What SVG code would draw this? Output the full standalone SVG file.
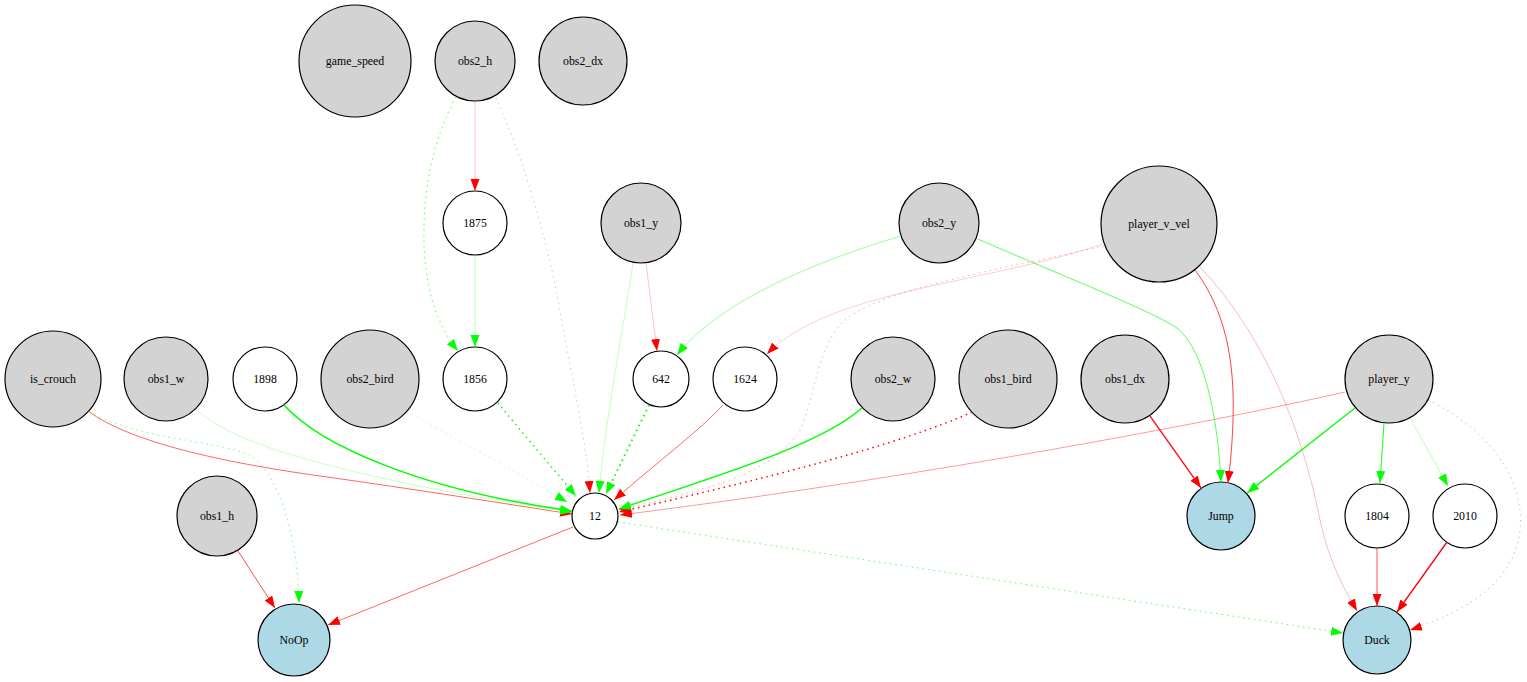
<svg xmlns="http://www.w3.org/2000/svg" width="1527" height="682" viewBox="0 0 1527 682">
  <style>
    .node circle { stroke: #000; stroke-width: 1.2; }
    .in circle { fill: #d3d3d3; }
    .hid circle { fill: #ffffff; }
    .out circle { fill: #add8e6; }
    .node text { font-family: 'Liberation Serif', 'DejaVu Serif', serif; font-size: 11.8px; text-anchor: middle; fill: #000; }
    .edge { fill: none; stroke-linecap: butt; }
    .r { stroke: #ff0000; marker-end: url(#ah-red); }
    .g { stroke: #00ff00; marker-end: url(#ah-green); }
    .dot { stroke-dasharray: 1.5 4; }
  </style>
  <defs>
    <marker id="ah-red" markerUnits="userSpaceOnUse" markerWidth="13" markerHeight="10" refX="12" refY="4.5" orient="auto">
      <path d="M0,0 L12,4.5 L0,9 z" fill="#ff0000"/>
    </marker>
    <marker id="ah-green" markerUnits="userSpaceOnUse" markerWidth="13" markerHeight="10" refX="12" refY="4.5" orient="auto">
      <path d="M0,0 L12,4.5 L0,9 z" fill="#00ff00"/>
    </marker>
  </defs>
  <rect width="1527" height="682" fill="#ffffff"/>

  <!-- nodes: grey = inputs, white = hidden, blue = outputs; labels sit on the centre (baseline +4) -->
  <g font-family="Liberation Serif, serif">
  <g id="game_speed" class="node in"><circle cx="355" cy="61" r="56"/><text x="355" y="65">game_speed</text></g>
  <g id="obs2_h" class="node in"><circle cx="475" cy="61" r="40"/><text x="475" y="65">obs2_h</text></g>
  <g id="obs2_dx" class="node in"><circle cx="583" cy="61" r="44"/><text x="583" y="65">obs2_dx</text></g>
  <g id="n1875" class="node hid"><circle cx="475" cy="223" r="32"/><text x="475" y="227">1875</text></g>
  <g id="obs1_y" class="node in"><circle cx="641" cy="223" r="40"/><text x="641" y="227">obs1_y</text></g>
  <g id="obs2_y" class="node in"><circle cx="939" cy="223" r="40"/><text x="939" y="227">obs2_y</text></g>
  <g id="player_v_vel" class="node in"><circle cx="1159" cy="224" r="58"/><text x="1159" y="228">player_v_vel</text></g>
  <g id="is_crouch" class="node in"><circle cx="53" cy="379" r="48"/><text x="53" y="383">is_crouch</text></g>
  <g id="obs1_w" class="node in"><circle cx="166" cy="379" r="42"/><text x="166" y="383">obs1_w</text></g>
  <g id="n1898" class="node hid"><circle cx="265" cy="379" r="32"/><text x="265" y="383">1898</text></g>
  <g id="obs2_bird" class="node in"><circle cx="370" cy="379" r="49"/><text x="370" y="383">obs2_bird</text></g>
  <g id="n1856" class="node hid"><circle cx="475" cy="379" r="32"/><text x="475" y="383">1856</text></g>
  <g id="n642" class="node hid"><circle cx="661" cy="379" r="28"/><text x="661" y="383">642</text></g>
  <g id="n1624" class="node hid"><circle cx="745" cy="379" r="32"/><text x="745" y="383">1624</text></g>
  <g id="obs2_w" class="node in"><circle cx="893" cy="379" r="42"/><text x="893" y="383">obs2_w</text></g>
  <g id="obs1_bird" class="node in"><circle cx="1008" cy="379" r="49"/><text x="1008" y="383">obs1_bird</text></g>
  <g id="obs1_dx" class="node in"><circle cx="1125" cy="379" r="44"/><text x="1125" y="383">obs1_dx</text></g>
  <g id="player_y" class="node in"><circle cx="1389" cy="379" r="44"/><text x="1389" y="383">player_y</text></g>
  <g id="obs1_h" class="node in"><circle cx="217" cy="516" r="40"/><text x="217" y="520">obs1_h</text></g>
  <g id="n12" class="node hid"><circle cx="595" cy="516" r="23"/><text x="595" y="520">12</text></g>
  <g id="Jump" class="node out"><circle cx="1221" cy="516" r="34"/><text x="1221" y="520">Jump</text></g>
  <g id="n1804" class="node hid"><circle cx="1377" cy="516" r="32"/><text x="1377" y="520">1804</text></g>
  <g id="n2010" class="node hid"><circle cx="1465" cy="516" r="32"/><text x="1465" y="520">2010</text></g>
  <g id="NoOp" class="node out"><circle cx="294" cy="640" r="36"/><text x="294" y="644">NoOp</text></g>
  <g id="Duck" class="node out"><circle cx="1377" cy="640" r="34"/><text x="1377" y="644">Duck</text></g>
  </g>

  <!-- connectors: red = negative weight, green = positive, dotted = disabled -->
  <g id="connectors">
    <path class="edge r" stroke-width="0.8" stroke-opacity="0.3" d="M475,101 L475,191"/>
    <path class="edge r dot" stroke-width="1" stroke-opacity="0.3" d="M496,98 C520,150 545,230 558,300 C570,370 585,430 590,493"/>
    <path class="edge r" stroke-width="0.8" stroke-opacity="0.3" d="M646,263 L657,351"/>
    <path class="edge r" stroke-width="0.8" stroke-opacity="0.25" d="M1103,244 C980,285 830,290 767,354"/>
    <path class="edge r dot" stroke-width="1" stroke-opacity="0.35" d="M1104,246 C1000,270 870,290 840,325 C815,355 815,400 800,430 C770,480 680,495 619,510"/>
    <path class="edge r" stroke-width="1" stroke-opacity="0.75" d="M1195,270 C1225,310 1235,360 1233,420 C1232,450 1230,465 1228,483"/>
    <path class="edge r" stroke-width="0.8" stroke-opacity="0.35" d="M1200,267 C1260,330 1300,420 1320,520 C1330,565 1345,590 1357,611"/>
    <path class="edge r" stroke-width="1" stroke-opacity="0.6" d="M88,411 C130,442 220,462 320,476 C420,490 500,503 572,514"/>
    <path class="edge r" stroke-width="1" stroke-opacity="0.6" d="M723,405 C700,430 660,460 614,500"/>
    <path class="edge r dot" stroke-width="1.5" stroke-opacity="1" d="M972,412 C900,445 760,480 619,512"/>
    <path class="edge r" stroke-width="1" stroke-opacity="0.4" d="M1345,392 C1200,425 900,480 620,515"/>
    <path class="edge r dot" stroke-width="1" stroke-opacity="0.35" d="M1428,400 C1490,430 1525,480 1520,530 C1515,580 1470,610 1410,630"/>
    <path class="edge r" stroke-width="1.3" stroke-opacity="0.9" d="M1150,416 L1201,488"/>
    <path class="edge r" stroke-width="1.5" stroke-opacity="0.45" d="M1377,547 L1377,606"/>
    <path class="edge r" stroke-width="1.3" stroke-opacity="1" d="M1447,542 L1397,612"/>
    <path class="edge r" stroke-width="1" stroke-opacity="0.7" d="M238,551 L275,608"/>
    <path class="edge r" stroke-width="1" stroke-opacity="0.6" d="M573,527 L328,625"/>

    <path class="edge g dot" stroke-width="1" stroke-opacity="0.7" d="M456,97 C432,140 420,200 425,260 C430,310 445,335 458,351"/>
    <path class="edge g" stroke-width="0.8" stroke-opacity="0.35" d="M475,256 L475,347"/>
    <path class="edge g" stroke-width="0.8" stroke-opacity="0.3" d="M633,263 C625,320 605,420 599,493"/>
    <path class="edge g" stroke-width="0.8" stroke-opacity="0.5" d="M901,236 C820,260 720,300 677,355"/>
    <path class="edge g" stroke-width="1" stroke-opacity="0.65" d="M978,239 C1060,275 1150,310 1177,328 C1205,350 1218,420 1221,482"/>
    <path class="edge g dot" stroke-width="1" stroke-opacity="0.55" d="M90,412 C140,440 215,440 250,455 C275,470 298,530 299,603"/>
    <path class="edge g" stroke-width="0.8" stroke-opacity="0.3" d="M197,410 C230,440 300,460 400,482 C470,497 530,506 572,512"/>
    <path class="edge g" stroke-width="1.5" stroke-opacity="1" d="M284,405 C320,445 420,490 572,511"/>
    <path class="edge g dot" stroke-width="1" stroke-opacity="0.3" d="M407,412 C460,440 520,475 567,502"/>
    <path class="edge g dot" stroke-width="1.5" stroke-opacity="1" d="M498,403 C520,430 550,465 576,496"/>
    <path class="edge g dot" stroke-width="2" stroke-opacity="1" d="M649,405 L606,494"/>
    <path class="edge g" stroke-width="1.5" stroke-opacity="1" d="M862,408 C820,445 720,475 619,509"/>
    <path class="edge g" stroke-width="1.3" stroke-opacity="1" d="M1355,408 L1247,493"/>
    <path class="edge g" stroke-width="1" stroke-opacity="0.9" d="M1384,423 L1380,483"/>
    <path class="edge g" stroke-width="0.8" stroke-opacity="0.35" d="M1410,418 L1448,486"/>
    <path class="edge g dot" stroke-width="1" stroke-opacity="0.65" d="M618,522 L1343,633"/>
  </g>
</svg>
